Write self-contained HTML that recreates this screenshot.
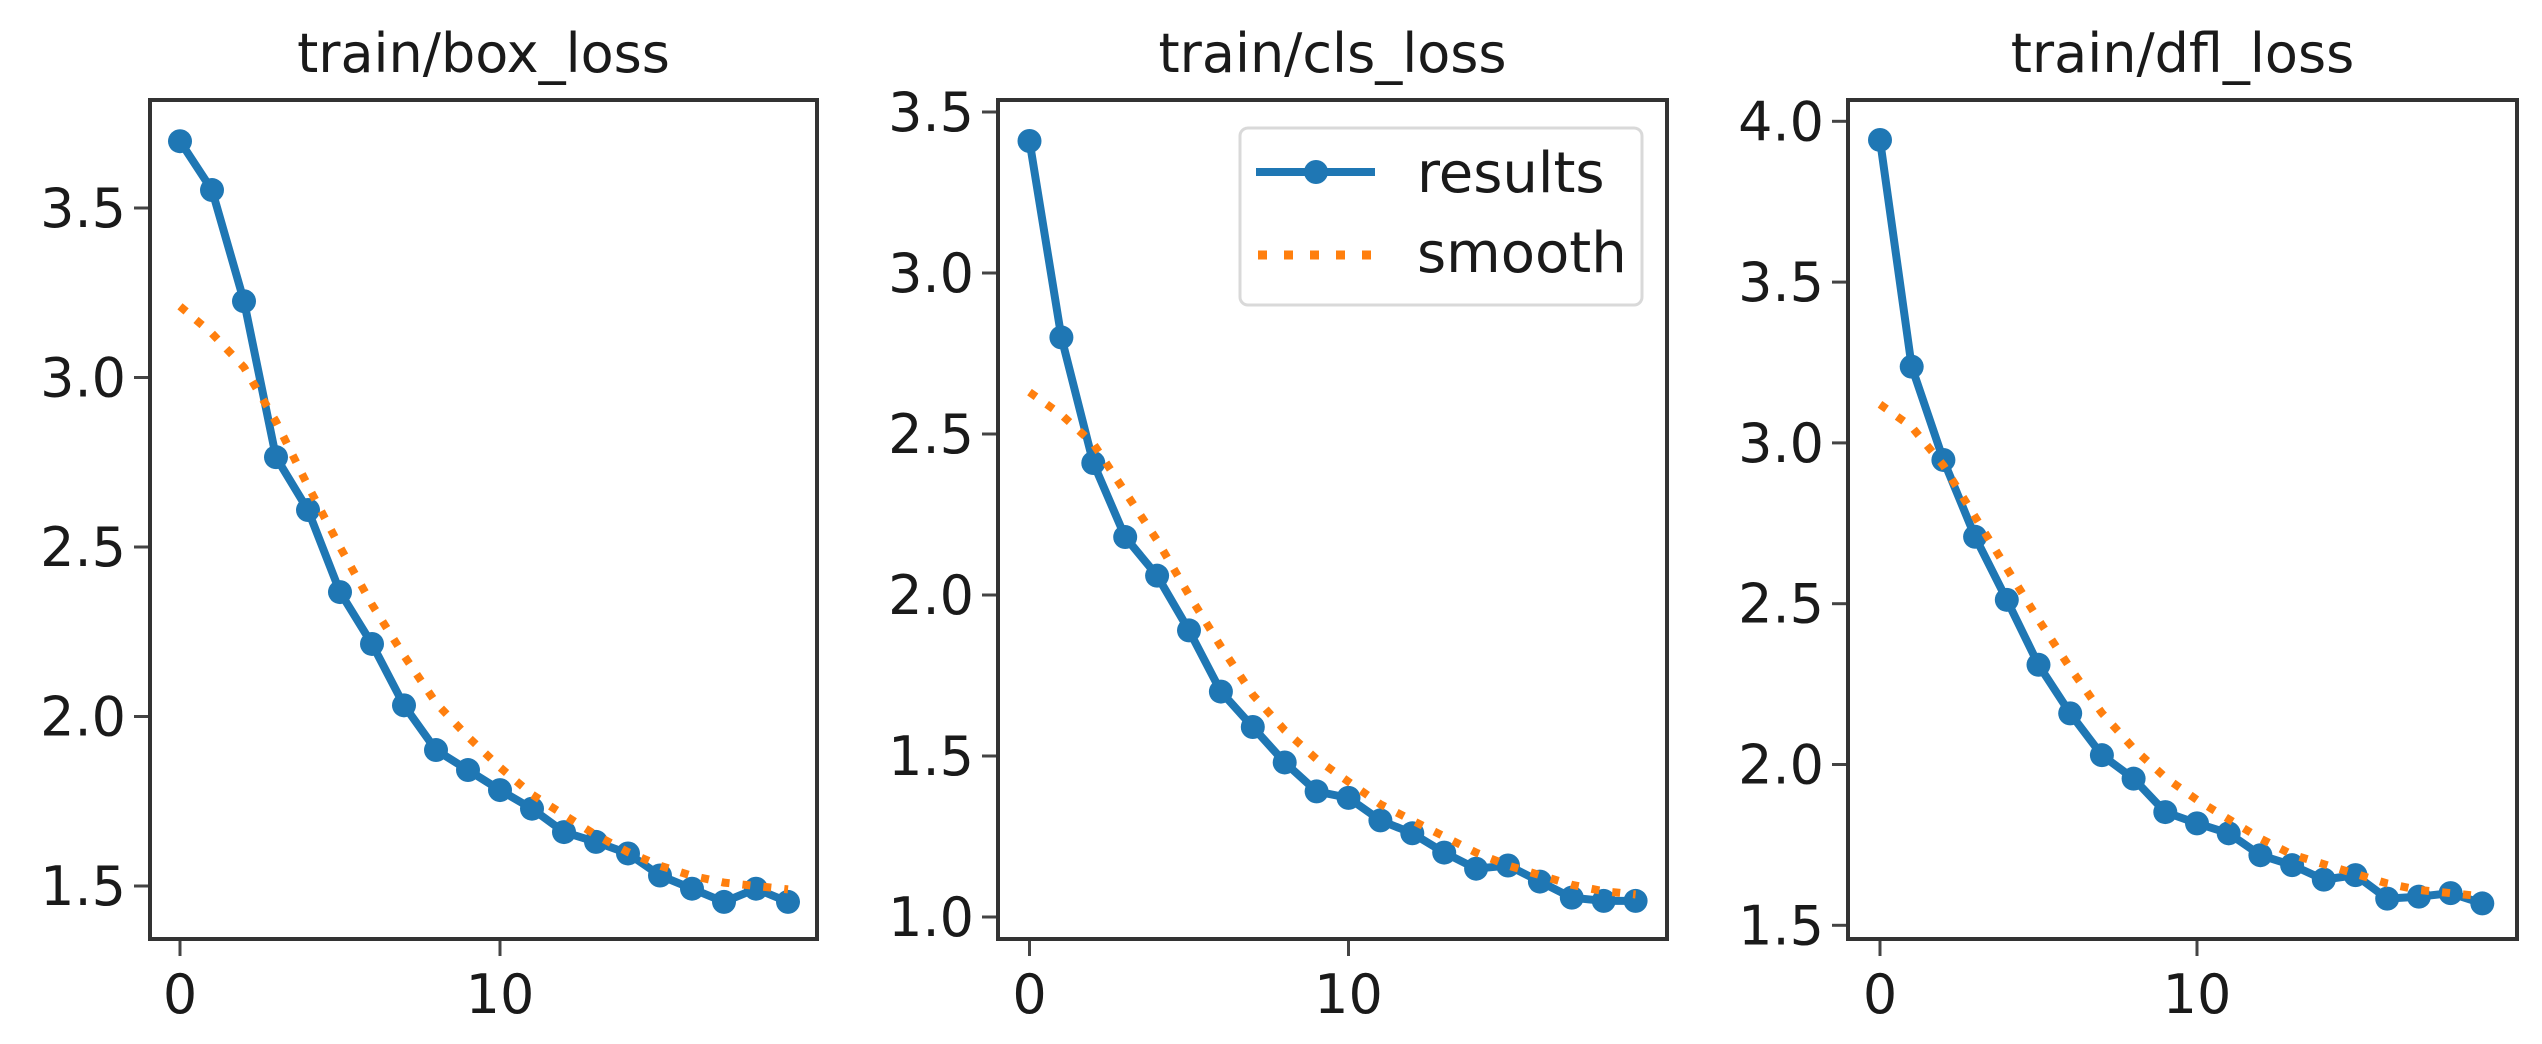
<!DOCTYPE html>
<html><head><meta charset="utf-8"><style>
html,body{margin:0;padding:0;background:#fff;}
svg{display:block;font-family:"DejaVu Sans","Liberation Sans",sans-serif;}
</style></head><body>
<svg id="chart" width="2542" height="1044" viewBox="0 0 2542 1044"></svg>
<script>
const epochs = [0,1,2,3,4,5,6,7,8,9,10,11,12,13,14,15,16,17,18,19];
const titles = ["train/box_loss","train/cls_loss","train/dfl_loss"];
const boxResults = [3.697,3.553,3.225,2.765,2.609,2.367,2.214,2.033,1.901,1.842,1.783,1.728,1.659,1.630,1.596,1.531,1.492,1.453,1.492,1.453];
const boxSmooth = [3.21,3.13,3.03,2.87,2.68,2.50,2.33,2.18,2.04,1.94,1.85,1.77,1.71,1.65,1.60,1.56,1.53,1.51,1.50,1.49];
const clsResults = [3.41,2.80,2.41,2.18,2.06,1.89,1.70,1.59,1.48,1.39,1.37,1.30,1.26,1.20,1.15,1.16,1.11,1.06,1.05,1.05];
const clsSmooth = [2.63,2.56,2.47,2.32,2.17,2.00,1.84,1.69,1.58,1.49,1.42,1.35,1.30,1.25,1.20,1.16,1.13,1.10,1.08,1.07];
const dflResults = [3.942,3.237,2.947,2.708,2.512,2.310,2.159,2.029,1.956,1.852,1.817,1.786,1.718,1.687,1.642,1.656,1.583,1.589,1.600,1.568];
const dflSmooth = [3.12,3.05,2.93,2.77,2.61,2.45,2.30,2.16,2.05,1.96,1.89,1.83,1.77,1.72,1.69,1.66,1.63,1.61,1.60,1.59];
const boxTicks = ["1.5","2.0","2.5","3.0","3.5"];
const clsTicks = ["1.0","1.5","2.0","2.5","3.0","3.5"];
const dflTicks = ["1.5","2.0","2.5","3.0","3.5","4.0"];
const xTicks = ["0","10"];

const NS="http://www.w3.org/2000/svg";
const svg=document.getElementById('chart');
function mk(tag,attrs,parent){const e=document.createElementNS(NS,tag);for(const k in attrs)e.setAttribute(k,attrs[k]);(parent||svg).appendChild(e);return e;}

// panel geometry: left,right,top,bottom plus y calibration (value,pixel pairs)
const panels=[
 {left:150,right:817,top:100,bottom:939,x0:180,xs:32.0,yv1:3.5,yp1:208,yv2:1.5,yp2:886,res:boxResults,sm:boxSmooth,ticks:boxTicks,name:'box-loss'},
 {left:998,right:1667,top:100,bottom:939,x0:1029.5,xs:31.9,yv1:3.5,yp1:112,yv2:1.0,yp2:917,res:clsResults,sm:clsSmooth,ticks:clsTicks,name:'cls-loss'},
 {left:1848,right:2517,top:100,bottom:939,x0:1880,xs:31.7,yv1:4.0,yp1:121.3,yv2:1.5,yp2:925.3,res:dflResults,sm:dflSmooth,ticks:dflTicks,name:'dfl-loss'}
];

panels.forEach((p,i)=>{
  const g=mk('g',{});
  
  
  const xS=v=>p.x0+v*p.xs;
  const yS=v=>p.yp2+(v-p.yv2)*(p.yp1-p.yp2)/(p.yv1-p.yv2);
  // title
  const t=mk('text',{x:(p.left+p.right)/2,y:72,'text-anchor':'middle','font-size':54,fill:'#1a1a1a'},g);
  t.textContent=titles[i];
  
  
  // y ticks
  p.ticks.forEach(lbl=>{
    const y=yS(parseFloat(lbl));
    const tk=mk('line',{x1:p.left-16,x2:p.left,y1:y,y2:y,stroke:'#444','stroke-width':3},g);
    
    
    const tl=mk('text',{x:p.left-24,y:y+19,'text-anchor':'end','font-size':54,fill:'#1a1a1a'},g);
    tl.textContent=lbl;
    
    
  });
  xTicks.forEach(lbl=>{
    const x=xS(parseFloat(lbl));
    const tk=mk('line',{x1:x,x2:x,y1:p.bottom,y2:p.bottom+17,stroke:'#444','stroke-width':3},g);
    
    
    const tl=mk('text',{x:x,y:1013,'text-anchor':'middle','font-size':54,fill:'#1a1a1a'},g);
    tl.textContent=lbl;
    
    
  });
  // results line
  const rp=epochs.map((e,j)=>xS(e)+','+yS(p.res[j])).join(' ');
  const rl=mk('polyline',{points:rp,fill:'none',stroke:'#1f77b4','stroke-width':8,'stroke-linejoin':'round'},g);
  
  
  epochs.forEach((e,j)=>{
    const c=mk('circle',{cx:xS(e),cy:yS(p.res[j]),r:12,fill:'#1f77b4'},g);
    
    
  });
  // smooth line
  const sp=epochs.map((e,j)=>xS(e)+','+yS(p.sm[j])).join(' ');
  const sl=mk('polyline',{points:sp,fill:'none',stroke:'#ff7f0e','stroke-width':8,'stroke-dasharray':'8 13'},g);
  
  
  // frame
  const fr=mk('rect',{x:p.left,y:p.top,width:p.right-p.left,height:p.bottom-p.top,fill:'none',stroke:'#333','stroke-width':4},g);
  
  
});

// legend in panel 2
const lg=mk('g',{});


mk('rect',{x:1240,y:128,width:402,height:177,rx:8,fill:'#fff','fill-opacity':0.85,stroke:'#d9d9d9','stroke-width':3},lg);
mk('line',{x1:1256,x2:1375,y1:172,y2:172,stroke:'#1f77b4','stroke-width':8},lg);
mk('circle',{cx:1316,cy:172,r:12,fill:'#1f77b4'},lg);
const lt1=mk('text',{x:1417,y:192,'font-size':56,fill:'#1a1a1a'},lg);
lt1.textContent='results';


mk('line',{x1:1258,x2:1372,y1:255,y2:255,stroke:'#ff7f0e','stroke-width':9,'stroke-dasharray':'9 17'},lg);
const lt2=mk('text',{x:1417,y:272,'font-size':56,fill:'#1a1a1a'},lg);
lt2.textContent='smooth';


</script>
</body></html>
